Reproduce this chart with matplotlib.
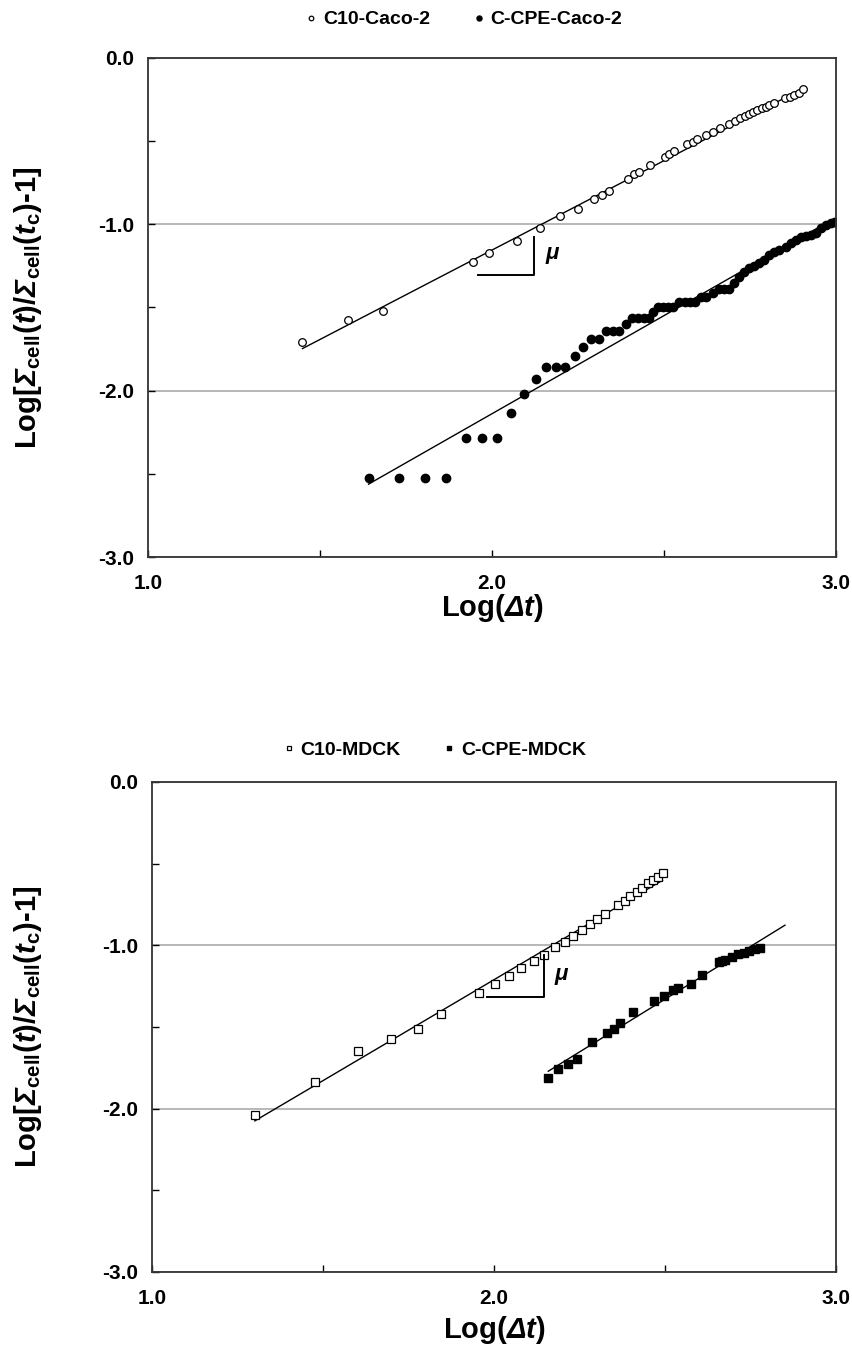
import numpy as np
import matplotlib
matplotlib.use("Agg")
import matplotlib.pyplot as plt

plt.rcParams['font.family'] = ['Liberation Sans', 'DejaVu Sans']
plt.rcParams['font.weight'] = 'bold'
plt.rcParams['mathtext.fontset'] = 'custom'
plt.rcParams['mathtext.rm'] = 'Liberation Sans:bold'
plt.rcParams['mathtext.it'] = 'Liberation Sans:bold:italic'
plt.rcParams['mathtext.sf'] = 'Liberation Sans:bold:italic'
plt.rcParams['mathtext.bf'] = 'Liberation Sans:bold'

# ---- top panel: Caco-2 ----
c10_caco_x = [1.449, 1.580, 1.682, 1.945, 1.991, 2.072, 2.140, 2.198, 2.251, 2.297,
              2.319, 2.340, 2.396, 2.414, 2.428, 2.460, 2.503, 2.515, 2.530, 2.568,
              2.583, 2.597, 2.622, 2.641, 2.663, 2.690, 2.706, 2.721, 2.735, 2.748,
              2.760, 2.771, 2.784, 2.795, 2.806, 2.820, 2.852, 2.865, 2.878, 2.891, 2.905]
c10_caco_y = [-1.710, -1.577, -1.521, -1.225, -1.173, -1.102, -1.022, -0.952, -0.906, -0.848,
              -0.822, -0.798, -0.726, -0.700, -0.684, -0.644, -0.593, -0.579, -0.559, -0.519,
              -0.503, -0.489, -0.463, -0.443, -0.423, -0.395, -0.379, -0.363, -0.351, -0.337,
              -0.325, -0.315, -0.303, -0.293, -0.283, -0.273, -0.242, -0.233, -0.223, -0.209, -0.189]

cpe_caco_x = [1.641, 1.731, 1.804, 1.867, 1.924, 1.972, 2.015, 2.056, 2.094, 2.127,
              2.158, 2.186, 2.213, 2.240, 2.265, 2.289, 2.311, 2.331, 2.351, 2.370,
              2.389, 2.406, 2.425, 2.441, 2.455, 2.468, 2.483, 2.497, 2.511, 2.525,
              2.545, 2.560, 2.575, 2.590, 2.607, 2.621, 2.641, 2.660, 2.675, 2.690,
              2.704, 2.718, 2.733, 2.747, 2.762, 2.776, 2.791, 2.805, 2.820, 2.834,
              2.854, 2.868, 2.883, 2.898, 2.912, 2.927, 2.941, 2.956, 2.970, 2.985, 2.998]
cpe_caco_y = [-2.523, -2.523, -2.523, -2.523, -2.287, -2.287, -2.287, -2.137, -2.022, -1.932,
              -1.858, -1.858, -1.856, -1.792, -1.739, -1.688, -1.688, -1.641, -1.641, -1.641,
              -1.601, -1.563, -1.563, -1.563, -1.563, -1.529, -1.495, -1.495, -1.495, -1.495,
              -1.469, -1.469, -1.469, -1.469, -1.439, -1.439, -1.411, -1.387, -1.387, -1.387,
              -1.355, -1.318, -1.284, -1.264, -1.251, -1.234, -1.215, -1.184, -1.164, -1.154,
              -1.138, -1.114, -1.094, -1.078, -1.070, -1.066, -1.050, -1.020, -1.004, -0.994, -0.986]

# ---- bottom panel: MDCK ----
c10_mdck_x = [1.301, 1.477, 1.602, 1.700, 1.779, 1.846, 1.956, 2.002, 2.043, 2.080,
              2.116, 2.147, 2.179, 2.207, 2.232, 2.258, 2.281, 2.302, 2.324, 2.364,
              2.382, 2.399, 2.417, 2.434, 2.450, 2.466, 2.480, 2.493]
c10_mdck_y = [-2.037, -1.838, -1.646, -1.574, -1.511, -1.422, -1.295, -1.238, -1.187, -1.139,
              -1.094, -1.059, -1.008, -0.978, -0.942, -0.906, -0.870, -0.839, -0.809, -0.752,
              -0.727, -0.697, -0.674, -0.647, -0.621, -0.600, -0.579, -0.558]

cpe_mdck_x = [2.159, 2.188, 2.216, 2.242, 2.288, 2.332, 2.352, 2.370, 2.406, 2.469,
              2.498, 2.525, 2.539, 2.575, 2.608, 2.659, 2.668, 2.677, 2.696, 2.714,
              2.731, 2.747, 2.762, 2.777]
cpe_mdck_y = [-1.813, -1.760, -1.728, -1.694, -1.591, -1.536, -1.511, -1.475, -1.409, -1.340,
              -1.308, -1.276, -1.263, -1.236, -1.179, -1.103, -1.098, -1.092, -1.071, -1.056,
              -1.046, -1.035, -1.025, -1.014]

# fitted trend lines (end points)
fit_c10_caco = ([1.449, 2.905], [-1.747, -0.182])
fit_cpe_caco = ([1.641, 2.995], [-2.562, -0.965])
fit_c10_mdck = ([1.301, 2.493], [-2.075, -0.602])
fit_cpe_mdck = ([2.159, 2.851], [-1.771, -0.877])

# slope marker (mu) : x_start, x_corner, y_top, y_bottom
mu_caco = (1.958, 2.123, -1.074, -1.305)
mu_mdck = (1.980, 2.147, -1.059, -1.318)

fig = plt.figure(figsize=(8.53, 13.51), dpi=100)
ax1 = fig.add_axes([0.1735, 0.5877, 0.8066, 0.3694])
ax2 = fig.add_axes([0.178, 0.0585, 0.802, 0.3627])

# sf is mapped to bold italic so that the capital Greek letters come out slanted
ylabel = r'Log[$\mathsf{Σ}_{\mathrm{cell}}(\mathsf{t})/\mathsf{Σ}_{\mathrm{cell}}(\mathsf{t}_{\mathrm{c}})$-1]'
xlabel = r'Log($\mathsf{Δt}$)'


def style(ax):
    ax.set_xlim(1.0, 3.0)
    ax.set_ylim(-3.0, 0.0)
    ax.set_xticks([1.0, 2.0, 3.0])
    ax.set_xticks([1.5, 2.5], minor=True)
    ax.set_yticks([0.0, -1.0, -2.0, -3.0])
    ax.set_yticks([-0.5, -1.5, -2.5], minor=True)
    ax.xaxis.set_major_formatter(matplotlib.ticker.FormatStrFormatter('%.1f'))
    ax.yaxis.set_major_formatter(matplotlib.ticker.FormatStrFormatter('%.1f'))
    ax.tick_params(which='both', direction='in', length=5, width=1, top=False, right=False)
    ax.tick_params(axis='y', labelsize=15, pad=10)
    ax.tick_params(axis='x', labelsize=15, pad=12)
    for lab in ax.get_xticklabels() + ax.get_yticklabels():
        lab.set_fontweight('bold')
    for s in ax.spines.values():
        s.set_color('#333333')
        s.set_linewidth(1.3)
    ax.yaxis.grid(True, which='major', color='#ababab', linewidth=1.2)
    ax.set_axisbelow(True)
    ax.set_ylabel(ylabel, fontsize=21, fontweight='bold', va='center')
    ax.set_xlabel(xlabel, fontsize=21, fontweight='bold', va='center')


def mu(ax, m):
    x0, x1, yt, yb = m
    ax.plot([x0, x1, x1], [yb, yb, yt], color='black', linewidth=1.4)
    ax.text(x1 + 0.03, (yt + yb) / 2, r'$\mathsf{μ}$', fontsize=16,
            va='center', ha='left')


style(ax1)
ax1.plot(*fit_c10_caco, color='black', linewidth=1)
ax1.plot(*fit_cpe_caco, color='black', linewidth=1)
ax1.plot(c10_caco_x, c10_caco_y, 'o', ms=5.5, mfc='white', mec='black', mew=0.9,
         label='C10-Caco-2')
ax1.plot(cpe_caco_x, cpe_caco_y, 'o', ms=6, mfc='black', mec='black',
         label='C-CPE-Caco-2')
mu(ax1, mu_caco)
ax1.legend(loc='center', bbox_to_anchor=(0.456, 1.077), ncol=2, frameon=False,
           prop={'weight': 'bold', 'size': 14}, handletextpad=0.1,
           columnspacing=2.0, markerscale=0.6, handlelength=1.0)
ax1.yaxis.set_label_coords(-0.174, 0.5)
ax1.xaxis.set_label_coords(0.5, -0.102)

style(ax2)
ax2.plot(*fit_c10_mdck, color='black', linewidth=1)
ax2.plot(*fit_cpe_mdck, color='black', linewidth=1)
ax2.plot(c10_mdck_x, c10_mdck_y, 's', ms=6, mfc='white', mec='black', mew=0.9,
         label='C10-MDCK')
ax2.plot(cpe_mdck_x, cpe_mdck_y, 's', ms=6, mfc='black', mec='black',
         label='C-CPE-MDCK')
mu(ax2, mu_mdck)
ax2.legend(loc='center', bbox_to_anchor=(0.41, 1.065), ncol=2, frameon=False,
           prop={'weight': 'bold', 'size': 14}, handletextpad=0.1,
           columnspacing=2.0, markerscale=0.6, handlelength=1.0)
ax2.yaxis.set_label_coords(-0.181, 0.5)
ax2.xaxis.set_label_coords(0.5, -0.118)

fig.savefig('out.png', dpi=100)
